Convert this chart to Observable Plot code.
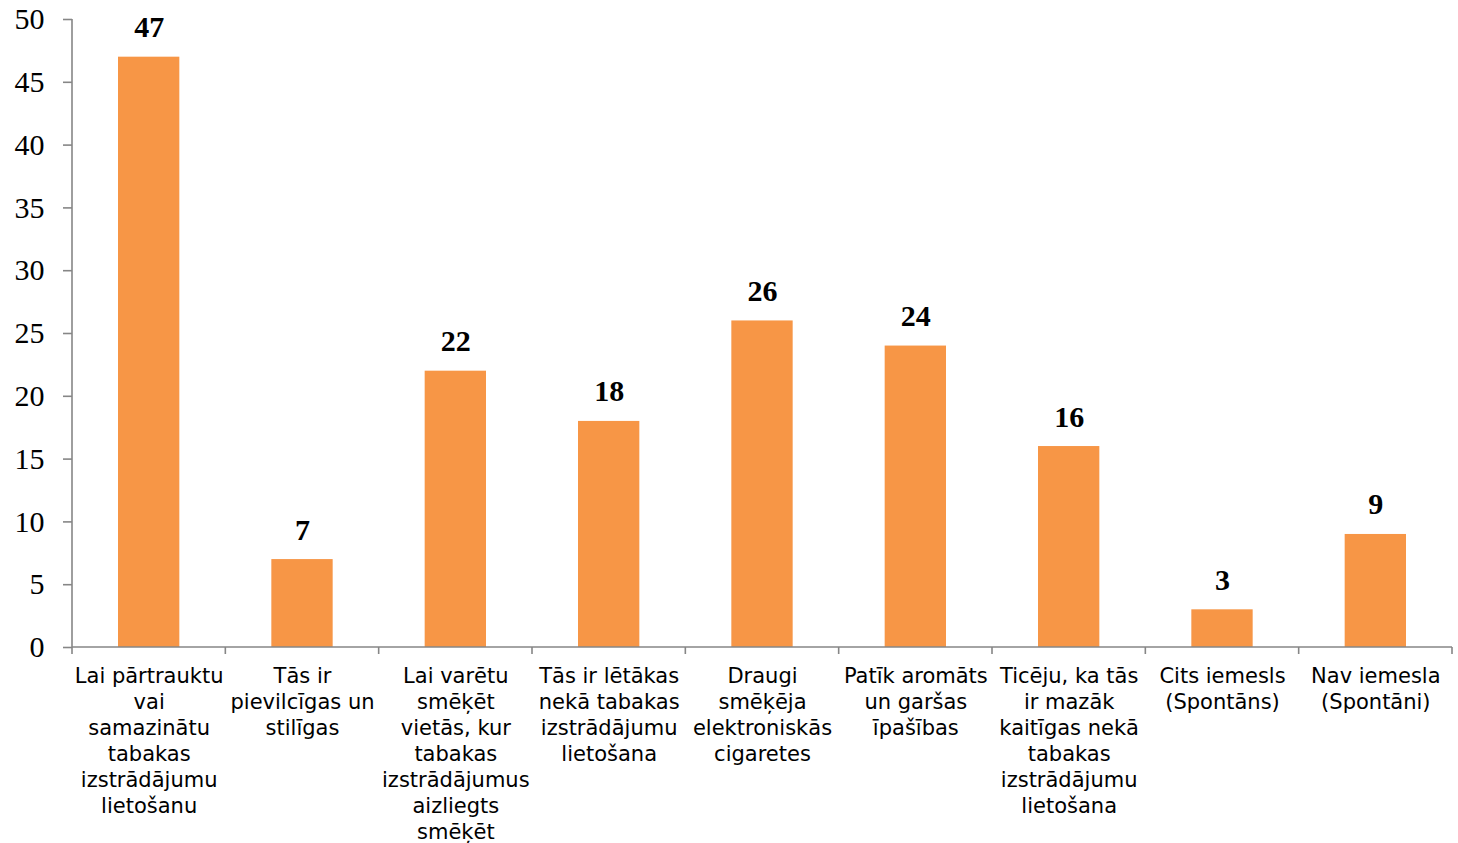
<!DOCTYPE html>
<html><head><meta charset="utf-8">
<script src="https://cdn.jsdelivr.net/npm/d3@7"></script>
<script src="https://cdn.jsdelivr.net/npm/@observablehq/plot@0.6"></script>
<style>body{margin:0;background:#fff}</style>
</head><body><div id="chart"></div>
<script>
const categories = [
  "Lai pārtrauktu\nvai\nsamazinātu\ntabakas\nizstrādājumu\nlietošanu",
  "Tās ir\npievilcīgas un\nstilīgas",
  "Lai varētu\nsmēķēt\nvietās, kur\ntabakas\nizstrādājumus\naizliegts\nsmēķēt",
  "Tās ir lētākas\nnekā tabakas\nizstrādājumu\nlietošana",
  "Draugi\nsmēķēja\nelektroniskās\ncigaretes",
  "Patīk aromāts\nun garšas\nīpašības",
  "Ticēju, ka tās\nir mazāk\nkaitīgas nekā\ntabakas\nizstrādājumu\nlietošana",
  "Cits iemesls\n(Spontāns)",
  "Nav iemesla\n(Spontāni)"
];
const values = [47, 7, 22, 18, 26, 24, 16, 3, 9];
const yTicks = [0, 5, 10, 15, 20, 25, 30, 35, 40, 45, 50];

const data = categories.map((c, i) => ({category: c, value: values[i]}));
const axisColor = "#868686";
const barColor = "#F79646";

function frameLines(index, scales, vals, dims) {
  const {width, height, marginLeft, marginRight, marginBottom, marginTop} = dims;
  const n = categories.length;
  const step = (width - marginLeft - marginRight) / n;
  const y0 = height - marginBottom;
  const g = d3.create("svg:g").attr("stroke", axisColor).attr("stroke-width", 1.6).attr("fill", "none");
  g.append("line").attr("x1", marginLeft).attr("x2", marginLeft).attr("y1", marginTop).attr("y2", y0);
  g.append("line").attr("x1", marginLeft).attr("x2", width - marginRight).attr("y1", y0).attr("y2", y0);
  for (let i = 0; i <= n; i++) {
    const x = marginLeft + i * step;
    g.append("line").attr("x1", x).attr("x2", x).attr("y1", y0).attr("y2", y0 + 7);
  }
  return g.node();
}

const chart = Plot.plot({
  width: 1458,
  height: 843,
  marginLeft: 72,
  marginRight: 6,
  marginTop: 19,
  marginBottom: 196,
  style: {background: "#fff", overflow: "visible"},
  x: {domain: categories, paddingInner: 0.6, paddingOuter: 0.3, align: 0.5, round: false},
  y: {domain: [0, 50]},
  marks: [
    Plot.barY(data, {x: "category", y: "value", fill: barColor}),
    Plot.axisY({ticks: yTicks, tickSize: 9, tickPadding: 19, stroke: axisColor, strokeWidth: 1.6,
      fontFamily: "Liberation Serif", fontSize: 30, fill: "black", label: null}),
    Plot.axisX({tickSize: 0, tickPadding: 17, lineHeight: 1.238, lineAnchor: "top",
      fontFamily: "DejaVu Sans", fontSize: 21, fill: "black", label: null}),
    frameLines,
    Plot.text(data, {x: "category", y: "value", text: d => String(d.value), dy: -20, lineAnchor: "bottom",
      fontFamily: "Liberation Serif", fontWeight: "bold", fontSize: 30, fill: "black"})
  ]
});
document.getElementById("chart").appendChild(chart);
</script>
</body></html>
